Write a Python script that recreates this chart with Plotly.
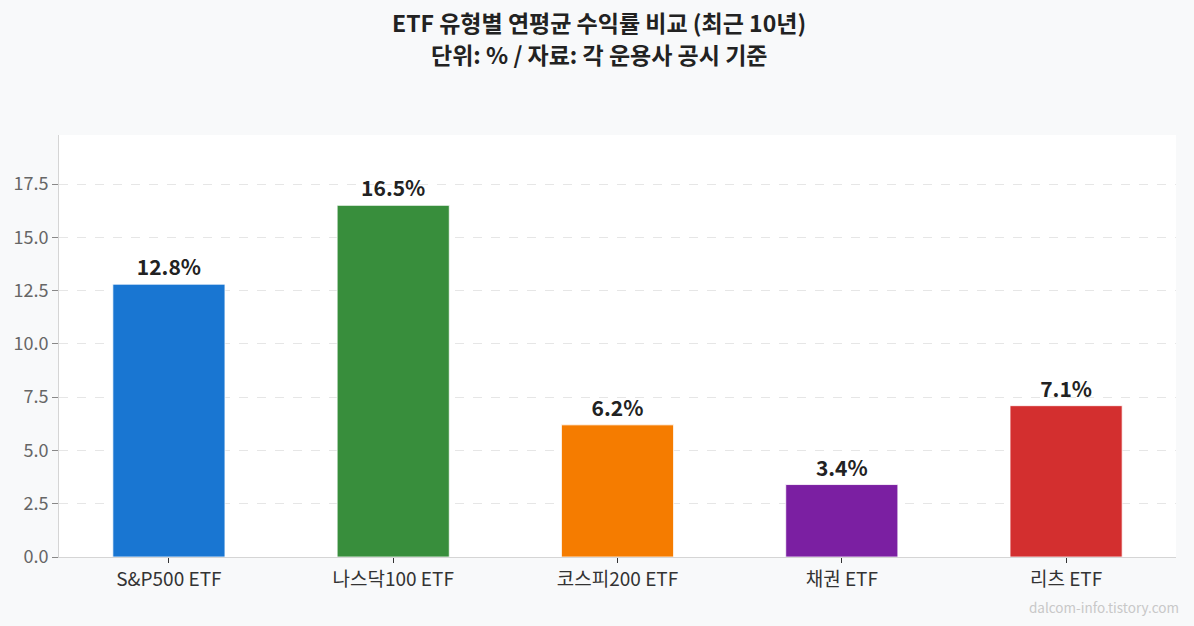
import plotly.graph_objects as go

categories = ["S&P500 ETF", "나스닥100 ETF", "코스피200 ETF", "채권 ETF", "리츠 ETF"]
returns = [12.8, 16.5, 6.2, 3.4, 7.1]
colors = ["#1976D2", "#388E3C", "#F57C00", "#7B1FA2", "#D32F2F"]
y_ticks = [0.0, 2.5, 5.0, 7.5, 10.0, 12.5, 15.0, 17.5]
title_lines = ["ETF 유형별 연평균 수익률 비교 (최근 10년)", "단위: % / 자료: 각 운용사 공시 기준"]

FONT = "Noto Sans CJK KR"


def build_plot():
    fig = go.Figure()
    fig.add_trace(go.Bar(
        x=list(range(len(categories))),
        y=returns,
        width=0.5,
        marker=dict(color=colors, line=dict(color="white", width=0.8)),
        text=[f"{v:.1f}%" for v in returns],
        textposition="outside",
        textfont=dict(family=FONT, size=21, color="#222222", weight="bold"),
        cliponaxis=False,
        hoverinfo="skip",
    ))

    # title lines + watermark as paper annotations (plot area is 422px tall)
    notes = []
    for text, ypos in zip(title_lines, [1.268, 1.192]):
        notes.append(dict(
            text=text, xref="paper", yref="paper", x=0.483, y=ypos,
            xanchor="center", yanchor="middle", showarrow=False, borderpad=0,
            font=dict(family=FONT, size=23, color="#222222", weight="bold"),
        ))
    notes.append(dict(
        text="dalcom-info.tistory.com", xref="paper", yref="paper",
        x=1.0045, y=-0.118, xanchor="right", yanchor="middle", showarrow=False,
        font=dict(family=FONT, size=13.5, color="#C8C8C8"),
    ))

    fig.update_layout(
        width=1194,
        height=626,
        margin=dict(l=59, r=18, t=135, b=69),
        paper_bgcolor="#F8F9FA",
        plot_bgcolor="white",
        font=dict(family=FONT),
        showlegend=False,
        annotations=notes,
    )
    fig.update_xaxes(
        tickvals=list(range(len(categories))),
        ticktext=categories,
        range=[-0.49, 4.49],
        showgrid=False,
        showline=True, linecolor="#D5D5D5", linewidth=1,
        ticks="outside", ticklen=5, tickcolor="#333333",
        tickfont=dict(family=FONT, size=19, color="#333333"),
        zeroline=False,
    )
    fig.update_yaxes(
        range=[0, 19.8],
        tickvals=y_ticks,
        ticktext=[f"{v:.1f}" for v in y_ticks],
        showgrid=True, gridcolor="#E6E6E6", griddash="dash", gridwidth=1,
        showline=True, linecolor="#D5D5D5", linewidth=1,
        ticks="outside", ticklen=6, tickcolor="#888888",
        tickfont=dict(family=FONT, size=18, color="#666666"),
        zeroline=False,
    )
    return fig


def main() -> None:
    fig = build_plot()
    fig.write_html(
        "out.html",
        config={"displayModeBar": False},
        post_script="document.body.style.margin='0';document.body.style.overflow='hidden';",
    )


if __name__ == "__main__":
    main()
